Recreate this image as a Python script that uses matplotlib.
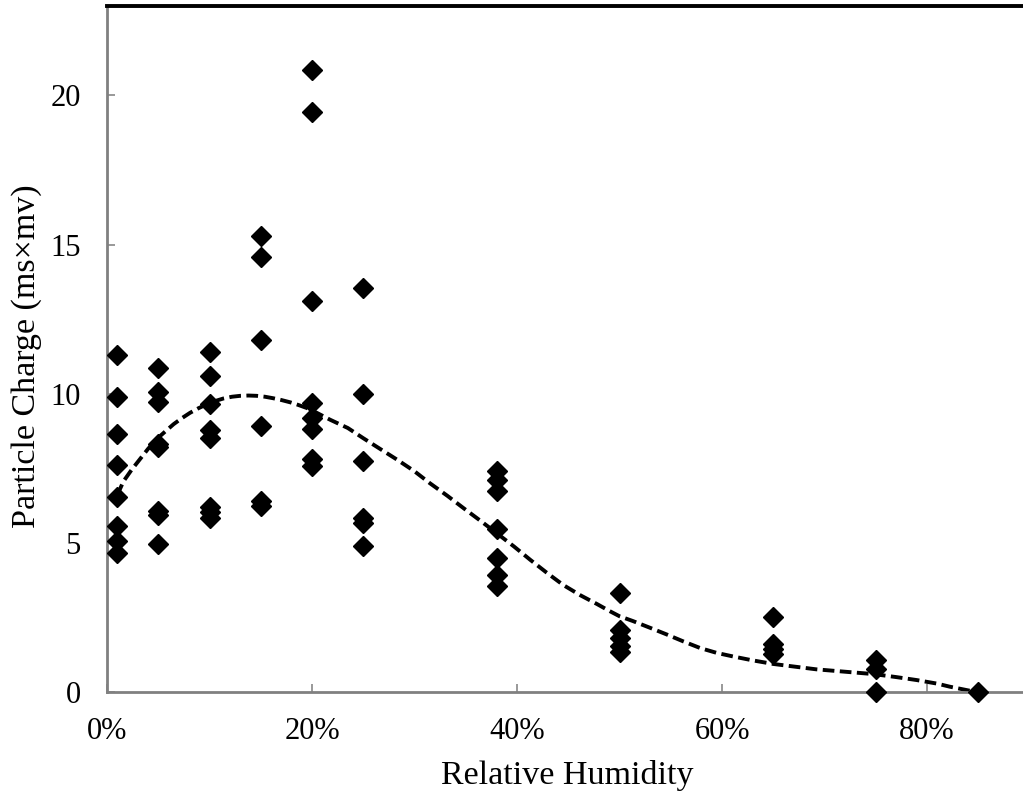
import numpy as np
import matplotlib
matplotlib.use("Agg")
import matplotlib.pyplot as plt
from matplotlib.ticker import PercentFormatter

# measured charge at each relative humidity (fraction)
rh_1 = [11.3, 9.9, 8.65, 7.6, 6.55, 5.55, 5.05, 4.65]
rh_5 = [10.85, 10.05, 9.72, 8.33, 8.2, 6.08, 5.93, 4.95]
rh_10 = [11.4, 10.6, 9.65, 8.8, 8.53, 6.2, 6.03, 5.82]
rh_15 = [15.28, 14.6, 11.8, 8.92, 6.4, 6.25]
rh_20 = [20.85, 19.45, 13.1, 9.7, 9.17, 8.82, 7.8, 7.57]
rh_25 = [13.56, 10.0, 7.75, 5.85, 5.66, 4.88]
rh_38 = [7.4, 7.1, 6.75, 5.45, 4.5, 3.92, 3.55]
rh_50 = [3.32, 2.07, 1.82, 1.55, 1.33]
rh_65 = [2.5, 1.6, 1.45, 1.28]
rh_75 = [1.07, 0.77, 0.0]
rh_85 = [0.0]

groups = [(0.01, rh_1), (0.05, rh_5), (0.10, rh_10), (0.15, rh_15),
          (0.20, rh_20), (0.25, rh_25), (0.38, rh_38), (0.50, rh_50),
          (0.65, rh_65), (0.75, rh_75), (0.85, rh_85)]

# trend line
trend_x = [0.01, 0.016, 0.024, 0.032, 0.04, 0.0485, 0.057, 0.065, 0.073, 0.081,
           0.089, 0.097, 0.105, 0.1135, 0.122, 0.13, 0.138, 0.146, 0.154, 0.162,
           0.17, 0.179, 0.187, 0.195, 0.203, 0.2176, 0.235, 0.25, 0.266, 0.283,
           0.3, 0.315, 0.332, 0.348, 0.364, 0.38, 0.397, 0.413, 0.429, 0.445,
           0.462, 0.478, 0.49, 0.50, 0.513, 0.53, 0.546, 0.562, 0.579, 0.595,
           0.611, 0.63, 0.65, 0.671, 0.692, 0.72, 0.748, 0.77, 0.79, 0.81,
           0.822, 0.835, 0.848]
trend_y = [6.6, 7.06, 7.45, 7.8, 8.15, 8.48, 8.74, 8.98, 9.18, 9.36,
           9.51, 9.64, 9.75, 9.84, 9.9, 9.93, 9.94, 9.93, 9.9, 9.85,
           9.79, 9.71, 9.62, 9.52, 9.39, 9.13, 8.85, 8.51, 8.16, 7.79,
           7.4, 7.0, 6.58, 6.16, 5.75, 5.33, 4.88, 4.43, 4.0, 3.59,
           3.24, 2.95, 2.72, 2.54, 2.38, 2.15, 1.93, 1.70, 1.47, 1.31,
           1.19, 1.06, 0.94, 0.85, 0.76, 0.68, 0.60, 0.50, 0.40, 0.28,
           0.18, 0.09, 0.0]

plt.rcParams['font.family'] = ['Liberation Serif', 'DejaVu Serif']

fig = plt.figure(figsize=(10.23, 7.92), dpi=100)
ax = fig.add_axes([107 / 1023, 100 / 792, 922.5 / 1023, 686 / 792])

xs = [x for x, vals in groups for v in vals]
ys = [v for x, vals in groups for v in vals]
ax.plot(trend_x, trend_y, color='black', lw=2.8, linestyle=(0, (3.0, 1.4)), zorder=2)
ax.plot(xs, ys, linestyle='none', marker='D', ms=10, color='black', zorder=3, clip_on=False)

ax.set_xlim(0, 0.9)
ax.set_ylim(0, 23)
ax.set_xticks([0, 0.2, 0.4, 0.6, 0.8])
ax.set_yticks([0, 5, 10, 15, 20])
ax.xaxis.set_major_formatter(PercentFormatter(1.0, decimals=0))
ax.tick_params(direction='in', length=6, width=1.2, color='#888888', labelsize=22)
ax.tick_params(axis='x', pad=18)
ax.tick_params(axis='y', pad=19)

for s in ['left', 'bottom']:
    ax.spines[s].set_color('#808080')
    ax.spines[s].set_linewidth(2)
ax.spines['top'].set_color('black')
ax.spines['top'].set_linewidth(2.8)
ax.spines['right'].set_visible(False)

fig.text(567 / 1023, 1 - 784 / 792, 'Relative Humidity', ha='center', va='baseline', fontsize=24.5)
fig.text(27 / 1023, 1 - 356 / 792, 'Particle Charge (ms×mv)', ha='center', va='center',
         rotation=90, fontsize=24.5)

fig.savefig('out.png', dpi=100)
